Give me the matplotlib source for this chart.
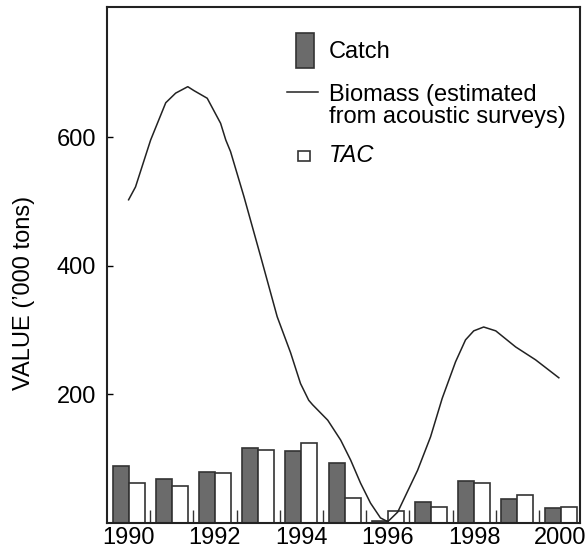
import numpy as np
import matplotlib
matplotlib.use("Agg")
import matplotlib.pyplot as plt
from matplotlib.patches import Rectangle
from matplotlib.lines import Line2D

plt.rcParams['font.family'] = ['Liberation Sans', 'DejaVu Sans']

# data
years = np.arange(1990, 2001)
catch = [88, 68, 80, 117, 112, 94, 3, 32, 65, 38, 24]
tac = [62, 58, 78, 114, 124, 39, 18, 25, 62, 44, 25]

bio_year = [1990.0, 1990.16, 1990.51, 1990.86, 1991.09, 1991.37, 1991.51, 1991.82, 1992.13,
            1992.25, 1992.36, 1992.67, 1993.06, 1993.44, 1993.75, 1993.98, 1994.17, 1994.26,
            1994.61, 1994.91, 1995.14, 1995.37, 1995.6, 1995.83, 1996.0, 1996.23, 1996.69,
            1996.99, 1997.26, 1997.57, 1997.8, 1997.99, 1998.22, 1998.5, 1998.96, 1999.42,
            1999.96]
bio_val = [503, 523, 596, 654, 669, 679, 673, 661, 622,
           596, 578, 508, 414, 321, 265, 217, 191, 184,
           160, 129, 98, 62, 31, 8, 2, 17, 82,
           134, 194, 251, 285, 299, 305, 299, 274, 254,
           226]

dark = '#6b6b6b'
edge = '#333333'
w = 0.37
fs = 17

fig = plt.figure(figsize=(5.87, 5.53), dpi=100)
ax = fig.add_axes([107/587, 30/553, 473/587, 516/553])

ax.bar(years - w, catch, width=w, align='edge', color=dark, edgecolor=edge, linewidth=1.2, zorder=2)
ax.bar(years, tac, width=w, align='edge', color='white', edgecolor=edge, linewidth=1.2, zorder=2)
ax.plot(bio_year, bio_val, color='#222222', linewidth=1.1, zorder=3)

ax.set_xlim(1989.5, 2000.45)
ax.set_ylim(0, 803)
ax.set_xticks(np.arange(1990, 2001, 2))
ax.set_xticks(np.arange(1990.5, 2000, 1), minor=True)
ax.set_yticks([200, 400, 600])
ax.tick_params(axis='x', which='major', length=0, labelsize=fs, pad=3)
ax.tick_params(axis='x', which='minor', direction='in', length=9.5, width=1.0, color=edge)
ax.tick_params(axis='y', direction='in', length=4.5, width=1.0, labelsize=fs, pad=8)
for s in ax.spines.values():
    s.set_linewidth(1.5)
    s.set_color('#222222')

fig.text(24/587, 1 - 293/553, 'VALUE (\u2019000 tons)', rotation=90, fontsize=fs,
         ha='center', va='center')

# legend drawn by hand in figure pixels
def fx(px):
    return px / 587

def fy(py):
    return 1 - py / 553

fig.patches.append(Rectangle((fx(296), fy(68)), fx(314) - fx(296), fy(33) - fy(68),
                             transform=fig.transFigure, facecolor=dark, edgecolor=edge, linewidth=1.2))
fig.text(fx(329), fy(52), 'Catch', fontsize=fs, va='center')
fig.lines.append(Line2D([fx(287), fx(318)], [fy(92), fy(92)], transform=fig.transFigure,
                        color='#222222', linewidth=1.1))
fig.text(fx(329), fy(106), 'Biomass (estimated\nfrom acoustic surveys)', fontsize=fs,
         va='center', linespacing=0.98)
fig.patches.append(Rectangle((fx(298), fy(161)), fx(310) - fx(298), fy(151) - fy(161),
                             transform=fig.transFigure, facecolor='white', edgecolor=edge, linewidth=1.2))
fig.text(fx(329), fy(155), 'TAC', fontsize=fs, va='center', style='italic')

fig.savefig('out.png', dpi=100)
